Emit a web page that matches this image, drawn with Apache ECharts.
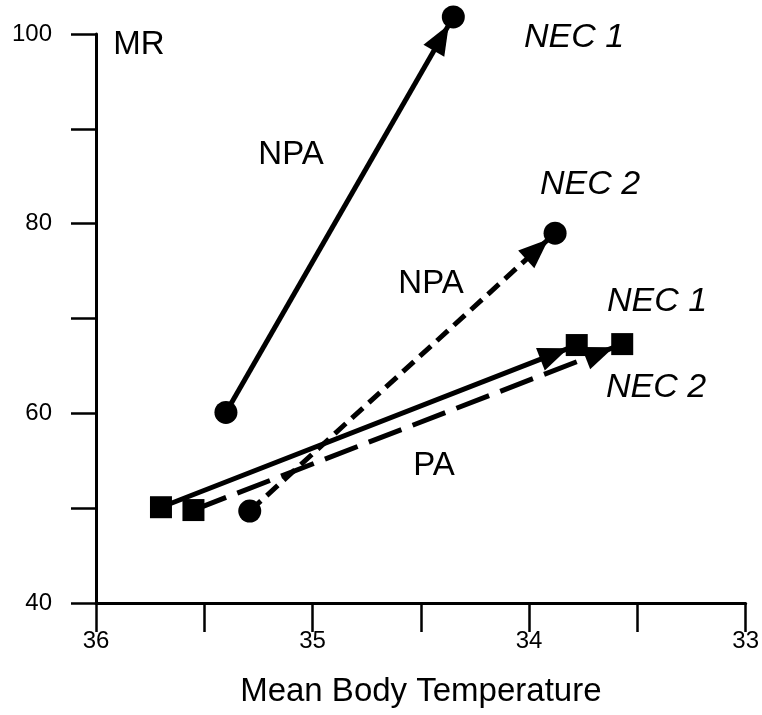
<!DOCTYPE html>
<html>
<head>
<meta charset="utf-8">
<script src="https://cdn.jsdelivr.net/npm/echarts@6/dist/echarts.min.js"></script>
<style>
  html, body { margin: 0; padding: 0; background: #fff; }
  #chart { width: 762px; height: 715px; }
</style>
</head>
<body>
<div id="chart"></div>
<script>
// values
const seriesNames = ['NPA NEC 1', 'NPA NEC 2', 'PA NEC 1', 'PA NEC 2'];
const startTemp = [35.40, 35.29, 35.70, 35.55];
const startMR = [60.1, 49.7, 50.1, 49.8];
const endTemp = [34.35, 33.88, 33.78, 33.57];
const endMR = [101.8, 79.0, 67.2, 67.3];
const markerSymbols = ['circle', 'circle', 'rect', 'rect'];
const lineTypes = ['solid', [15, 8], 'solid', [35, 12]];

const xTicks = { min: 33, max: 36, step: 0.5 };
const yTicks = { min: 40, max: 100, step: 10 };

const FONT = '"Liberation Sans", Arial, sans-serif';

const chart = echarts.init(document.getElementById('chart'));

const series = seriesNames.map((name, i) => ({
  name: name,
  type: 'line',
  clip: false,
  symbol: markerSymbols[i],
  symbolSize: markerSymbols[i] === 'rect' ? 22 : 23,
  itemStyle: { color: '#000' },
  lineStyle: { color: '#000', width: 5, type: lineTypes[i] },
  data: [[startTemp[i], startMR[i]], [endTemp[i], endMR[i]]]
}));

const option = {
  animation: false,
  backgroundColor: '#fff',
  grid: { left: 96, right: 16, top: 34, bottom: 112 },
  xAxis: {
    type: 'value',
    inverse: true,
    min: xTicks.min,
    max: xTicks.max,
    interval: xTicks.step,
    name: 'Mean Body Temperature',
    nameLocation: 'middle',
    nameGap: 72,
    nameTextStyle: { fontFamily: FONT, fontSize: 33, color: '#000' },
    axisLine: { onZero: false, lineStyle: { color: '#000', width: 3 } },
    axisTick: { inside: false, length: 29, lineStyle: { color: '#000', width: 2.5 } },
    axisLabel: {
      margin: 26,
      fontFamily: FONT, fontSize: 24, color: '#000',
      formatter: v => (Number.isInteger(v) ? String(v) : '')
    },
    splitLine: { show: false }
  },
  yAxis: {
    type: 'value',
    min: yTicks.min,
    max: yTicks.max,
    interval: yTicks.step,
    axisLine: { show: true, onZero: false, lineStyle: { color: '#000', width: 3 } },
    axisTick: { show: true, inside: false, length: 25, lineStyle: { color: '#000', width: 2.5 } },
    axisLabel: {
      margin: 44,
      fontFamily: FONT, fontSize: 24, color: '#000',
      formatter: v => (v % 20 === 0 ? String(v) : '')
    },
    splitLine: { show: false }
  },
  graphic: [
    ['MR', 139, 45, ''],
    ['NEC 1', 574, 38, 'italic '],
    ['NPA', 291, 155, ''],
    ['NEC 2', 590, 185, 'italic '],
    ['NPA', 431, 284, ''],
    ['NEC 1', 657, 302, 'italic '],
    ['NEC 2', 656, 388, 'italic '],
    ['PA', 434, 466, '']
  ].map(([t, x, y, st]) => ({
    type: 'text',
    x: x,
    y: y,
    style: {
      text: t,
      font: st + (st ? '34px ' : '33px ') + FONT,
      fill: '#000',
      align: 'center',
      verticalAlign: 'middle'
    }
  })),
  series: series
};

chart.setOption(option);

// arrowheads a little before each end marker, placed through the axes
const arrowBack = 24;
const withArrows = seriesNames.map((name, i) => {
  const p0 = chart.convertToPixel({ gridIndex: 0 }, [startTemp[i], startMR[i]]);
  const p1 = chart.convertToPixel({ gridIndex: 0 }, [endTemp[i], endMR[i]]);
  const dx = p1[0] - p0[0], dy = p1[1] - p0[1];
  const len = Math.sqrt(dx * dx + dy * dy);
  const tipPx = [p1[0] - dx / len * arrowBack, p1[1] - dy / len * arrowBack];
  const tip = chart.convertFromPixel({ gridIndex: 0 }, tipPx);
  return {
    markLine: {
      silent: true,
      animation: false,
      symbol: ['none', 'triangle'],
      symbolSize: [24, 30],
      label: { show: false },
      lineStyle: { color: '#000', width: 0, type: 'solid' },
      emphasis: { disabled: true },
      data: [[{ coord: [startTemp[i], startMR[i]] }, { coord: tip }]]
    }
  };
});
chart.setOption({ series: withArrows });
</script>
</body>
</html>
